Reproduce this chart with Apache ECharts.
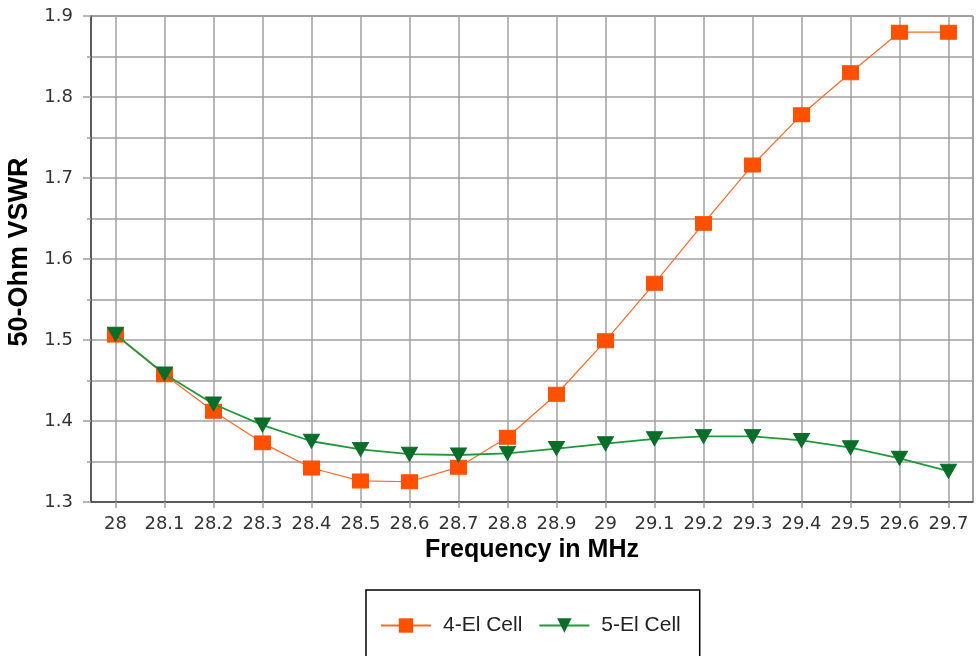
<!DOCTYPE html>
<html>
<head>
<meta charset="utf-8">
<script src="https://cdn.jsdelivr.net/npm/echarts@6/dist/echarts.min.js"></script>
<style>
html,body{margin:0;padding:0;background:#fff;}
#c{width:979px;height:656px;}
</style>
</head>
<body>
<div id="c"></div>
<script>
const frequencies = [28, 28.1, 28.2, 28.3, 28.4, 28.5, 28.6, 28.7, 28.8, 28.9, 29, 29.1, 29.2, 29.3, 29.4, 29.5, 29.6, 29.7];
const cell4 = [1.506, 1.457, 1.412, 1.373, 1.342, 1.326, 1.325, 1.343, 1.380, 1.433, 1.499, 1.570, 1.644, 1.716, 1.778, 1.830, 1.880, 1.880];
const cell5 = [1.507, 1.458, 1.421, 1.395, 1.375, 1.365, 1.359, 1.358, 1.360, 1.366, 1.372, 1.378, 1.381, 1.381, 1.376, 1.367, 1.354, 1.338];
const seriesNames = ['4-El Cell', '5-El Cell'];

const FONT = 'Liberation Sans, Arial, sans-serif';
const TICKFONT = 'DejaVu Sans, Verdana, sans-serif';
const chart = echarts.init(document.getElementById('c'), null, {renderer: 'canvas'});
const pairs = arr => frequencies.map((f, i) => [f, arr[i]]);

chart.setOption({
  animation: false,
  backgroundColor: '#ffffff',
  grid: {left: 91, right: 6, top: 16, bottom: 154, show: true, borderColor: '#444', borderWidth: 1,
    containLabel: false, outerBoundsMode: 'none'},
  xAxis: {
    type: 'value',
    min: 27.95,
    max: 29.75,
    splitNumber: 18,
    name: 'Frequency in MHz',
    nameLocation: 'middle',
    nameGap: 34,
    nameTextStyle: {fontFamily: FONT, fontSize: 25, fontWeight: 'bold', color: '#000'},
    axisLine: {show: true, lineStyle: {color: '#444', width: 1.5}},
    axisTick: {show: true, length: 6, lineStyle: {color: '#a0a0a0', width: 1.5}},
    axisLabel: {showMinLabel: false, showMaxLabel: false, margin: 13, fontFamily: TICKFONT, fontSize: 18, color: '#333',
      formatter: v => String(Math.round(v * 10) / 10)},
    splitLine: {show: true, lineStyle: {color: '#a0a0a0', width: 1.5}}
  },
  yAxis: {
    type: 'value',
    min: 1.3,
    max: 1.9,
    interval: 0.1,
    name: '50-Ohm VSWR',
    nameLocation: 'middle',
    nameGap: 50,
    nameTextStyle: {fontFamily: FONT, fontSize: 27, fontWeight: 'bold', color: '#000', padding: [0, 0, 0, 14]},
    axisLine: {show: true, lineStyle: {color: '#444', width: 1.5}},
    axisTick: {show: true, length: 8, lineStyle: {color: '#a0a0a0', width: 1.5}},
    minorTick: {show: true, splitNumber: 2, length: 4, lineStyle: {color: '#a0a0a0', width: 1.5}},
    axisLabel: {margin: 18, fontFamily: TICKFONT, fontSize: 18, color: '#333', formatter: v => v.toFixed(1)},
    splitLine: {show: true, lineStyle: {color: '#a0a0a0', width: 1.5}},
    minorSplitLine: {show: true, lineStyle: {color: '#a0a0a0', width: 1.5}}
  },
  legend: {
    left: 366,
    top: 590,
    padding: [25, 19, 60, 14],
    borderColor: '#000',
    borderWidth: 1.5,
    itemWidth: 50,
    itemHeight: 18,
    itemGap: 16,
    textStyle: {fontFamily: FONT, fontSize: 21, color: '#222', padding: [0, 0, 0, 7]},
    data: seriesNames
  },
  series: [
    {
      name: seriesNames[0],
      type: 'line',
      data: pairs(cell4),
      z: 10,
      symbol: 'rect',
      symbolSize: [16, 14],
      lineStyle: {color: '#ff6a2a', width: 1.2},
      itemStyle: {color: '#ff5000', borderColor: '#ff5000'}
    },
    {
      name: seriesNames[1],
      type: 'line',
      data: pairs(cell5),
      z: 11,
      symbol: 'triangle',
      symbolRotate: 180,
      symbolSize: [16, 14],
      lineStyle: {color: '#1e9a3c', width: 1.8},
      itemStyle: {color: '#0a6e2a', borderColor: '#0a6e2a'}
    }
  ]
});
</script>
</body>
</html>
